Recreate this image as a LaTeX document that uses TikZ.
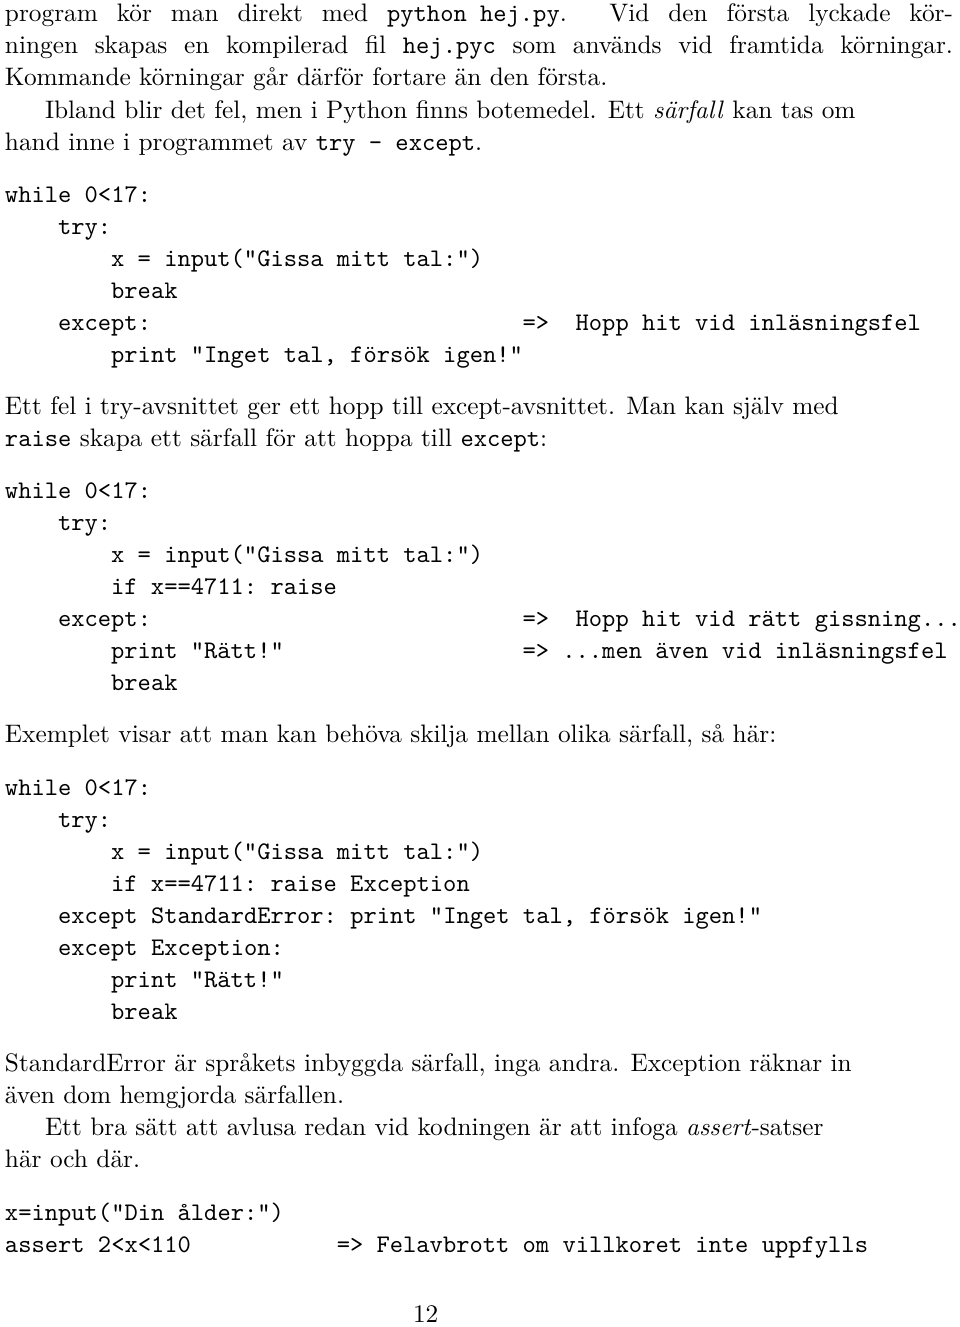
\documentclass[tikz,border=0pt]{standalone}
\usepackage{fontspec}
\setmainfont{lmroman10-regular.otf}[ItalicFont=lmroman10-italic.otf, BoldFont=lmroman10-bold.otf]
\setmonofont{lmmono10-regular.otf}
\usepackage{tikz}
\tikzset{x=1pt, y=-1pt,
	every node/.style={anchor=base west, inner sep=0pt, outer sep=0pt},
	txt/.style={font=\fontsize{25.3}{32}\selectfont},
	code/.style={font=\fontsize{25.3}{32}\selectfont\ttfamily}
}
% column of the mono font
\newcommand{\cx}[1]{5+#1*13.27}

\begin{document}
\begin{tikzpicture}
	\useasboundingbox (0,0) rectangle (960,1327);
	% first paragraph
	\node[txt] (p1) at (5,22) {\makebox[948pt][s]{program kör man direkt med \texttt{python hej.py}. Vid den första lyckade kör-}};
	\node[txt] (p2) at (5,54) {\makebox[948pt][s]{ningen skapas en kompilerad fil \texttt{hej.pyc} som används vid framtida körningar.}};
	\node[txt] (p3) at (5,86) {Kommande körningar går därför fortare än den första.};
	\node[txt] (p4) at (45,118) {Ibland blir det fel, men i Python finns botemedel. Ett \textit{särfall} kan tas om};
	\node[txt] (p5) at (5,150) {hand inne i programmet av \texttt{try - except}.};
	% first code block
	\node[code] (a1) at ({\cx{0}},202) {while 0<17:};
	\node[code] (a2) at ({\cx{4}},234) {try:};
	\node[code] (a3) at ({\cx{8}},266) {x = input("Gissa mitt tal:")};
	\node[code] (a4) at ({\cx{8}},298) {break};
	\node[code] (a5) at ({\cx{4}},330) {except:};
	\node[code] (a6) at ({\cx{39}},330) {=>\ \ Hopp hit vid inläsningsfel};
	\node[code] (a7) at ({\cx{8}},362) {print "Inget tal, försök igen!"};
	% second paragraph
	\node[txt] (q1) at (5,414) {Ett fel i try-avsnittet ger ett hopp till except-avsnittet. Man kan själv med};
	\node[txt] (q2) at (5,446) {\texttt{raise} skapa ett särfall för att hoppa till \texttt{except}:};
	% second code block
	\node[code] (b1) at ({\cx{0}},498) {while 0<17:};
	\node[code] (b2) at ({\cx{4}},530) {try:};
	\node[code] (b3) at ({\cx{8}},562) {x = input("Gissa mitt tal:")};
	\node[code] (b4) at ({\cx{8}},594) {if x==4711: raise};
	\node[code] (b5) at ({\cx{4}},626) {except:};
	\node[code] (b6) at ({\cx{39}},626) {=>\ \ Hopp hit vid rätt gissning...};
	\node[code] (b7) at ({\cx{8}},658) {print "Rätt!"};
	\node[code] (b8) at ({\cx{39}},658) {=>\ ...men även vid inläsningsfel};
	\node[code] (b9) at ({\cx{8}},690) {break};
	% third paragraph
	\node[txt] (r1) at (5,742) {Exemplet visar att man kan behöva skilja mellan olika särfall, så här:};
	% third code block
	\node[code] (c1) at ({\cx{0}},795) {while 0<17:};
	\node[code] (c2) at ({\cx{4}},827) {try:};
	\node[code] (c3) at ({\cx{8}},859) {x = input("Gissa mitt tal:")};
	\node[code] (c4) at ({\cx{8}},891) {if x==4711: raise Exception};
	\node[code] (c5) at ({\cx{4}},923) {except StandardError: print "Inget tal, försök igen!"};
	\node[code] (c6) at ({\cx{4}},955) {except Exception:};
	\node[code] (c7) at ({\cx{8}},987) {print "Rätt!"};
	\node[code] (c8) at ({\cx{8}},1019) {break};
	% fourth paragraph
	\node[txt] (s1) at (5,1071) {StandardError är språkets inbyggda särfall, inga andra. Exception räknar in};
	\node[txt] (s2) at (5,1103) {även dom hemgjorda särfallen.};
	\node[txt] (s3) at (45,1135) {Ett bra sätt att avlusa redan vid kodningen är att infoga \textit{assert}-satser};
	\node[txt] (s4) at (5,1167) {här och där.};
	% last code
	\node[code] (d1) at ({\cx{0}},1220) {x=input("Din ålder:")};
	\node[code] (d2) at ({\cx{0}},1252) {assert 2<x<110};
	\node[code] (d3) at ({\cx{25}},1252) {=> Felavbrott om villkoret inte uppfylls};
	% page number
	\node[txt] (pg) at (413,1322) {12};
\end{tikzpicture}
\end{document}
